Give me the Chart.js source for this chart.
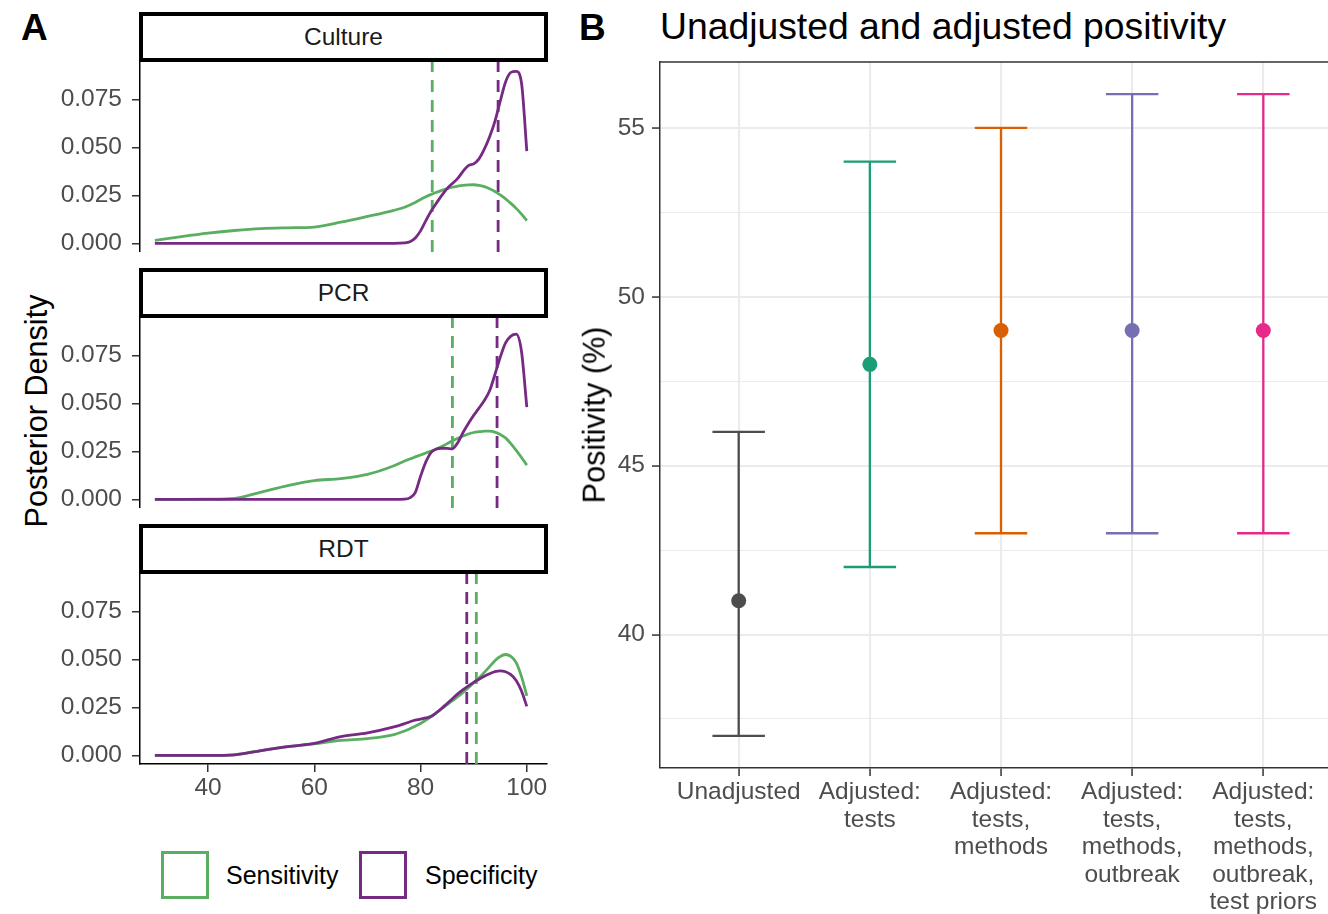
<!DOCTYPE html>
<html>
<head>
<meta charset="utf-8">
<script src="https://cdn.jsdelivr.net/npm/chart.js@4.4.1/dist/chart.umd.min.js"></script>
<style>
html, body { margin: 0; padding: 0; background: #fff; overflow: hidden; }
#wrap { position: relative; width: 1328px; height: 914px; overflow: hidden; font-family: 'Liberation Sans', Arial, sans-serif; }
canvas { position: absolute; }
.tag { position: absolute; font-weight: bold; font-size: 37px; line-height: 37px; color: #000; }
.title { position: absolute; left: 660px; top: 8px; font-size: 37.3px; line-height: 37.3px; white-space: nowrap; color: #000; }
.strip { position: absolute; left: 139px; width: 409px; height: 50px; box-sizing: border-box; border: 4px solid #000; background: #fff;
         font-size: 24.5px; color: #1a1a1a; display: flex; align-items: center; justify-content: center; }
.ytitle { position: absolute; font-size: 30.6px; line-height: 30.6px; white-space: nowrap; color: #000; transform: translate(-50%, -50%) rotate(-90deg); }
.legbox { position: absolute; top: 851px; width: 48px; height: 48px; box-sizing: border-box; border: 3px solid; background: #fff; }
.legtxt { position: absolute; top: 875px; transform: translateY(-50%); font-size: 25px; color: #000; white-space: nowrap; }
</style>
</head>
<body>
<div id="wrap">
  <div class="tag" style="left:21px; top:9px;">A</div>
  <div class="tag" style="left:579px; top:9px;">B</div>
  <div class="title">Unadjusted and adjusted positivity</div>

  <div class="strip" style="top:12px;">Culture</div>
  <div class="strip" style="top:268px;">PCR</div>
  <div class="strip" style="top:524px;">RDT</div>

  <canvas id="culture" width="487" height="190" style="left:60px; top:62px;"></canvas>
  <canvas id="pcr" width="487" height="190" style="left:60px; top:318px;"></canvas>
  <canvas id="rdt" width="495" height="230" style="left:60px; top:574px;"></canvas>

  <div class="ytitle" style="left:36px; top:411px;">Posterior Density</div>

  <div class="legbox" style="left:161px; border-color:#5AAE61;"></div>
  <div class="legtxt" style="left:226px;">Sensitivity</div>
  <div class="legbox" style="left:359px; border-color:#762A83;"></div>
  <div class="legtxt" style="left:425px;">Specificity</div>

  <canvas id="positividade" width="782" height="862" style="left:560px; top:52px;"></canvas>
  <div class="ytitle" style="left:594px; top:415px;">Positivity (%)</div>
</div>

<script>
// --- painel A: densidades a posteriori ---
const densityX = [30, 35, 40, 45, 50, 55, 60, 65, 70, 75, 77, 78, 79, 80, 81, 82, 83, 84, 85, 86, 87, 88, 89, 90, 91, 92, 93, 94, 95, 96, 97, 98, 99, 100];

const cultureSens = [0.0015, 0.0035, 0.0053, 0.0067, 0.0077, 0.0081, 0.0085, 0.0110, 0.0140, 0.0172, 0.0188, 0.0200, 0.0213, 0.0228, 0.0242, 0.0255, 0.0266, 0.0276, 0.0285, 0.0292, 0.0298, 0.0302, 0.0304, 0.0305, 0.0302, 0.0295, 0.0284, 0.0270, 0.0252, 0.0232, 0.0208, 0.0182, 0.0152, 0.0118];
const cultureSpec = [0, 0, 0, 0, 0, 0, 0, 0, 0, 0, 0.0002, 0.0008, 0.0028, 0.0065, 0.0118, 0.0168, 0.0210, 0.0250, 0.0285, 0.0312, 0.0338, 0.0375, 0.0405, 0.0414, 0.0440, 0.0490, 0.0555, 0.0635, 0.0740, 0.0840, 0.0890, 0.0895, 0.0835, 0.0480];

const pcrSens = [0, 0, 0.0001, 0.0005, 0.0038, 0.0072, 0.0098, 0.0108, 0.0130, 0.0175, 0.0200, 0.0210, 0.0221, 0.0231, 0.0241, 0.0251, 0.0262, 0.0275, 0.0290, 0.0305, 0.0318, 0.0330, 0.0340, 0.0348, 0.0352, 0.0355, 0.0355, 0.0350, 0.0338, 0.0320, 0.0290, 0.0255, 0.0218, 0.0178];
const pcrSpec = [0, 0, 0, 0, 0, 0, 0, 0, 0, 0, 0.0001, 0.0008, 0.0035, 0.0120, 0.0195, 0.0245, 0.0262, 0.0266, 0.0265, 0.0263, 0.0295, 0.0348, 0.0395, 0.0437, 0.0475, 0.0515, 0.0565, 0.0650, 0.0740, 0.0815, 0.0850, 0.0860, 0.0770, 0.0480];

const rdtSens = [0, 0, 0, 0.0003, 0.0025, 0.0045, 0.0060, 0.0078, 0.0087, 0.0108, 0.0127, 0.0138, 0.0152, 0.0166, 0.0183, 0.0202, 0.0222, 0.0243, 0.0264, 0.0285, 0.0305, 0.0328, 0.0352, 0.0378, 0.0403, 0.0432, 0.0462, 0.0493, 0.0515, 0.0525, 0.0515, 0.0483, 0.0410, 0.0310];
const rdtSpec = [0, 0, 0, 0.0003, 0.0025, 0.0045, 0.0062, 0.0098, 0.0117, 0.0148, 0.0165, 0.0175, 0.0183, 0.0188, 0.0195, 0.0203, 0.0222, 0.0245, 0.0270, 0.0295, 0.0320, 0.0342, 0.0362, 0.0380, 0.0396, 0.0412, 0.0425, 0.0436, 0.0440, 0.0435, 0.0420, 0.0390, 0.0335, 0.0255];

// medianas (linhas tracejadas): Culture, PCR, RDT
const medianSens = [82.2, 86.0, 90.5];
const medianSpec = [94.6, 94.4, 88.7];

const densityTicks = [0, 0.025, 0.05, 0.075];
const percentTicks = [40, 60, 80, 100];

// --- painel B: positividade ---
const categories = [
    ['Unadjusted'],
    ['Adjusted:', 'tests'],
    ['Adjusted:', 'tests,', 'methods'],
    ['Adjusted:', 'tests,', 'methods,', 'outbreak'],
    ['Adjusted:', 'tests,', 'methods,', 'outbreak,', 'test priors']
];
const estimate = [41, 48, 49, 49, 49];
const lower = [37, 42, 43, 43, 43];
const upper = [46, 54, 55, 56, 56];
const positivityTicks = [37.5, 40, 42.5, 45, 47.5, 50, 52.5, 55];

const GREEN = '#5AAE61';
const PURPLE = '#762A83';
const catColors = ['#4D4D4D', '#1B9E77', '#D95F02', '#7570B3', '#E7298A'];

Chart.defaults.font.family = "'Liberation Sans', Arial, sans-serif";
Chart.defaults.animation = false;

const densMin = -0.0045, densMax = 0.0944;
const pctMin = 27.2, pctMax = 103.8;

const panelBorder = {
    id: 'panelBorder',
    afterDraw(chart, args, opts) {
        if (!opts.sides) return;
        const { ctx, chartArea: a } = chart;
        ctx.save();
        ctx.strokeStyle = opts.color;
        ctx.lineWidth = opts.width;
        ctx.beginPath();
        if (opts.sides.includes('top')) { ctx.moveTo(a.left, a.top); ctx.lineTo(a.right, a.top); }
        if (opts.sides.includes('right')) { ctx.moveTo(a.right, a.top); ctx.lineTo(a.right, a.bottom); }
        ctx.stroke();
        ctx.restore();
    }
};

function facetChart(id, sens, spec, medSens, medSpec, showX) {
    const pts = ys => densityX.map((x, i) => ({ x, y: ys[i] }));
    const vline = m => [{ x: m, y: densMin }, { x: m, y: densMax }];
    const curve = (data, color) => ({ data, borderColor: color, borderWidth: 2.8, pointRadius: 0, cubicInterpolationMode: 'monotone', fill: false });
    const dashed = (data, color) => ({ data, borderColor: color, borderWidth: 2.8, borderDash: [12, 8], pointRadius: 0, fill: false });

    return new Chart(document.getElementById(id), {
        type: 'line',
        data: {
            datasets: [
                curve(pts(spec), PURPLE),
                curve(pts(sens), GREEN),
                dashed(vline(medSpec), PURPLE),
                dashed(vline(medSens), GREEN)
            ]
        },
        options: {
            responsive: false,
            layout: { autoPadding: false, padding: { top: 0, right: showX ? 8 : 0, bottom: 0, left: 0 } },
            plugins: { legend: { display: false }, tooltip: { enabled: false } },
            scales: {
                x: {
                    type: 'linear',
                    min: pctMin,
                    max: pctMax,
                    display: showX,
                    afterBuildTicks: s => { s.ticks = percentTicks.map(v => ({ value: v })); },
                    afterFit: s => { s.height = showX ? 40 : 0; s.paddingLeft = 0; s.paddingRight = 0; },
                    grid: { drawOnChartArea: false, color: '#333', lineWidth: 1.5, tickLength: 8 },
                    border: { color: '#000', width: 1.5 },
                    ticks: { color: '#4D4D4D', font: { size: 24.5 }, padding: 2, maxRotation: 0, autoSkip: false }
                },
                y: {
                    type: 'linear',
                    min: densMin,
                    max: densMax,
                    afterBuildTicks: s => { s.ticks = densityTicks.map(v => ({ value: v })); },
                    afterFit: s => { s.width = 80; s.paddingTop = 0; s.paddingBottom = 0; },
                    grid: { drawOnChartArea: false, color: '#333', lineWidth: 1.5, tickLength: 8 },
                    border: { color: '#000', width: 1.5 },
                    ticks: { color: '#4D4D4D', font: { size: 24.5 }, padding: 10, callback: v => v.toFixed(3) }
                }
            }
        }
    });
}

facetChart('culture', cultureSens, cultureSpec, medianSens[0], medianSpec[0], false);
facetChart('pcr', pcrSens, pcrSpec, medianSens[1], medianSpec[1], false);
facetChart('rdt', rdtSens, rdtSpec, medianSens[2], medianSpec[2], true);

// barras de erro: tampa + haste + tampa, cada uma como linha separada por null
const capHalf = 0.2;
const errorBars = categories.map((c, i) => ({
    type: 'line',
    order: 1,
    data: [
        { x: i - capHalf, y: upper[i] }, { x: i + capHalf, y: upper[i] }, { x: i, y: null },
        { x: i, y: upper[i] }, { x: i, y: lower[i] }, { x: i, y: null },
        { x: i - capHalf, y: lower[i] }, { x: i + capHalf, y: lower[i] }
    ],
    borderColor: catColors[i],
    borderWidth: 2.3,
    pointRadius: 0,
    spanGaps: false,
    fill: false
}));

new Chart(document.getElementById('positividade'), {
    type: 'line',
    data: {
        datasets: [
            {
                type: 'scatter',
                order: 0,
                data: estimate.map((y, i) => ({ x: i, y })),
                pointBackgroundColor: catColors,
                pointBorderColor: catColors,
                pointBorderWidth: 0,
                pointRadius: 7.5
            },
            ...errorBars
        ]
    },
    options: {
        responsive: false,
        layout: { autoPadding: false, padding: { top: 10, right: 0, bottom: 0, left: 0 } },
        plugins: {
            legend: { display: false },
            tooltip: { enabled: false },
            panelBorder: { sides: ['top', 'right'], color: '#333', width: 1.5 }
        },
        scales: {
            x: {
                type: 'linear',
                min: -0.6,
                max: categories.length - 0.4,
                afterBuildTicks: s => { s.ticks = categories.map((c, i) => ({ value: i })); },
                afterFit: s => { s.height = 146; s.paddingLeft = 0; s.paddingRight = 0; },
                grid: { color: '#EBEBEB', lineWidth: 2.1, tickColor: '#333', tickWidth: 1.5, tickLength: 8 },
                border: { color: '#333', width: 1.5 },
                ticks: {
                    color: '#4D4D4D',
                    font: { size: 24.5, lineHeight: 1.12 },
                    padding: 3,
                    maxRotation: 0,
                    minRotation: 0,
                    autoSkip: false,
                    callback: v => categories[v]
                }
            },
            y: {
                type: 'linear',
                min: 36.05,
                max: 56.95,
                afterBuildTicks: s => { s.ticks = positivityTicks.map(v => ({ value: v })); },
                afterFit: s => { s.width = 100; s.paddingTop = 0; s.paddingBottom = 0; },
                grid: {
                    color: '#EBEBEB',
                    lineWidth: ctx => (ctx.tick && ctx.tick.value % 5 === 0) ? 2.1 : 1.05,
                    tickColor: ctx => (ctx.tick && ctx.tick.value % 5 === 0) ? '#333' : 'rgba(0,0,0,0)',
                    tickWidth: 1.5,
                    tickLength: 8
                },
                border: { color: '#333', width: 1.5 },
                ticks: {
                    color: '#4D4D4D',
                    font: { size: 24.5 },
                    padding: 7,
                    callback: v => (v % 5 === 0 ? String(v) : '')
                }
            }
        }
    },
    plugins: [panelBorder]
});
</script>
</body>
</html>
